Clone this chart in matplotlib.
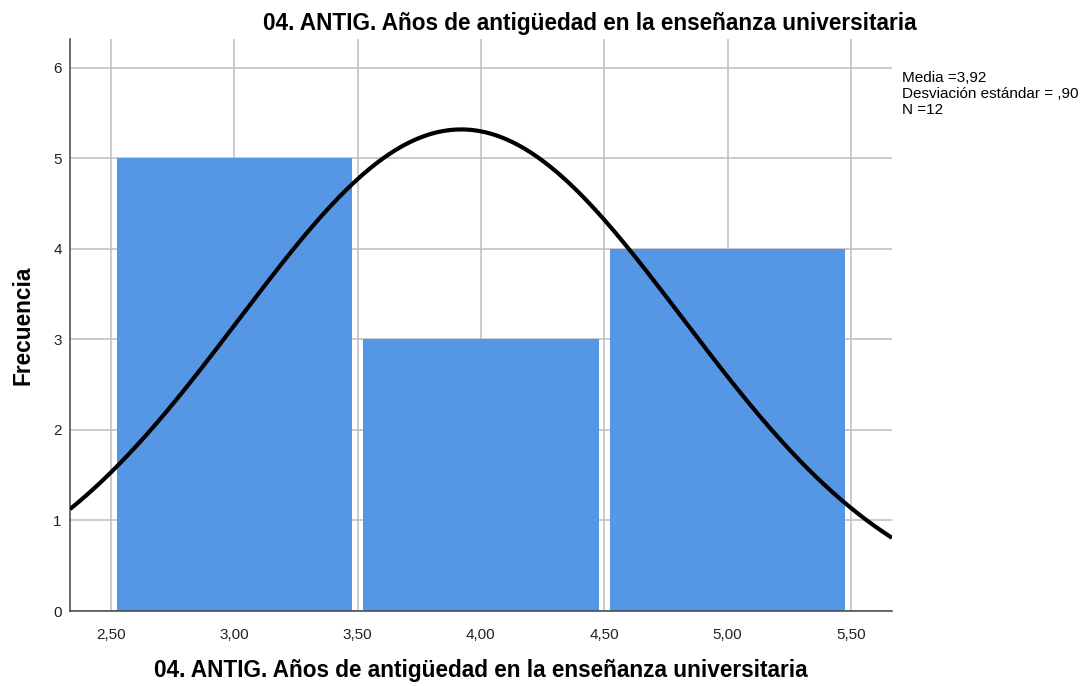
import matplotlib.pyplot as plt
import numpy as np

plt.rcParams['font.family'] = ['Liberation Sans', 'DejaVu Sans']

# datos del histograma
bin_centers = [3.0, 4.0, 5.0]
frecuencias = [5, 3, 4]
media = 3.92
desv = 0.90
n = 12
ancho_clase = 1.0

x_ticks = [2.5, 3.0, 3.5, 4.0, 4.5, 5.0, 5.5]
x_labels = ["2,50", "3,00", "3,50", "4,00", "4,50", "5,00", "5,50"]
y_ticks = [0, 1, 2, 3, 4, 5, 6]

titulo = "04. ANTIG. Años de antigüedad en la enseñanza universitaria"

fig = plt.figure(figsize=(10.86, 6.86), dpi=100)
ax = fig.add_axes([0.0645, 0.1093, 0.7569, 0.8337])

ax.bar(bin_centers, frecuencias, width=0.955, color="#5596e5", zorder=2)

xlim = (2.334, 5.667)
xs = np.linspace(xlim[0], xlim[1], 400)
curva = n * ancho_clase / (desv * np.sqrt(2 * np.pi)) * np.exp(-0.5 * ((xs - media) / desv) ** 2)
ax.plot(xs, curva, color="black", lw=3.0, zorder=3, solid_capstyle="butt")

ax.set_xlim(*xlim)
ax.set_ylim(0, 6.317)
ax.set_xticks(x_ticks)
ax.set_xticklabels(x_labels)
ax.set_yticks(y_ticks)
ax.tick_params(length=0, labelsize=11, colors="#222222")
ax.tick_params(axis="x", pad=12)
ax.tick_params(axis="y", pad=6)
ax.grid(color="#bdbdbd", lw=1.1, zorder=0)
ax.set_axisbelow(True)

for s in ["top", "right"]:
    ax.spines[s].set_visible(False)
for s in ["left", "bottom"]:
    ax.spines[s].set_color("#444444")
    ax.spines[s].set_linewidth(1.1)

# titulo centrado en la figura, etiquetas centradas en el eje
fig.text(0.5435, 1 - 30 / 686, titulo, fontsize=16.3, fontweight="bold",
         ha="center", va="baseline")
fig.text(481 / 1086, 1 - 677 / 686, titulo, fontsize=16.3, fontweight="bold",
         ha="center", va="baseline")
fig.text(23 / 1086, 1 - 325 / 686, "Frecuencia", fontsize=16.3, fontweight="bold",
         ha="center", va="center", rotation=90)

fig.text(902 / 1086, 1 - 71 / 686, "Media =3,92\nDesviación estándar = ,90\nN =12",
         fontsize=11, va="top", ha="left", linespacing=1.2)

plt.savefig("out.png", dpi=100)
